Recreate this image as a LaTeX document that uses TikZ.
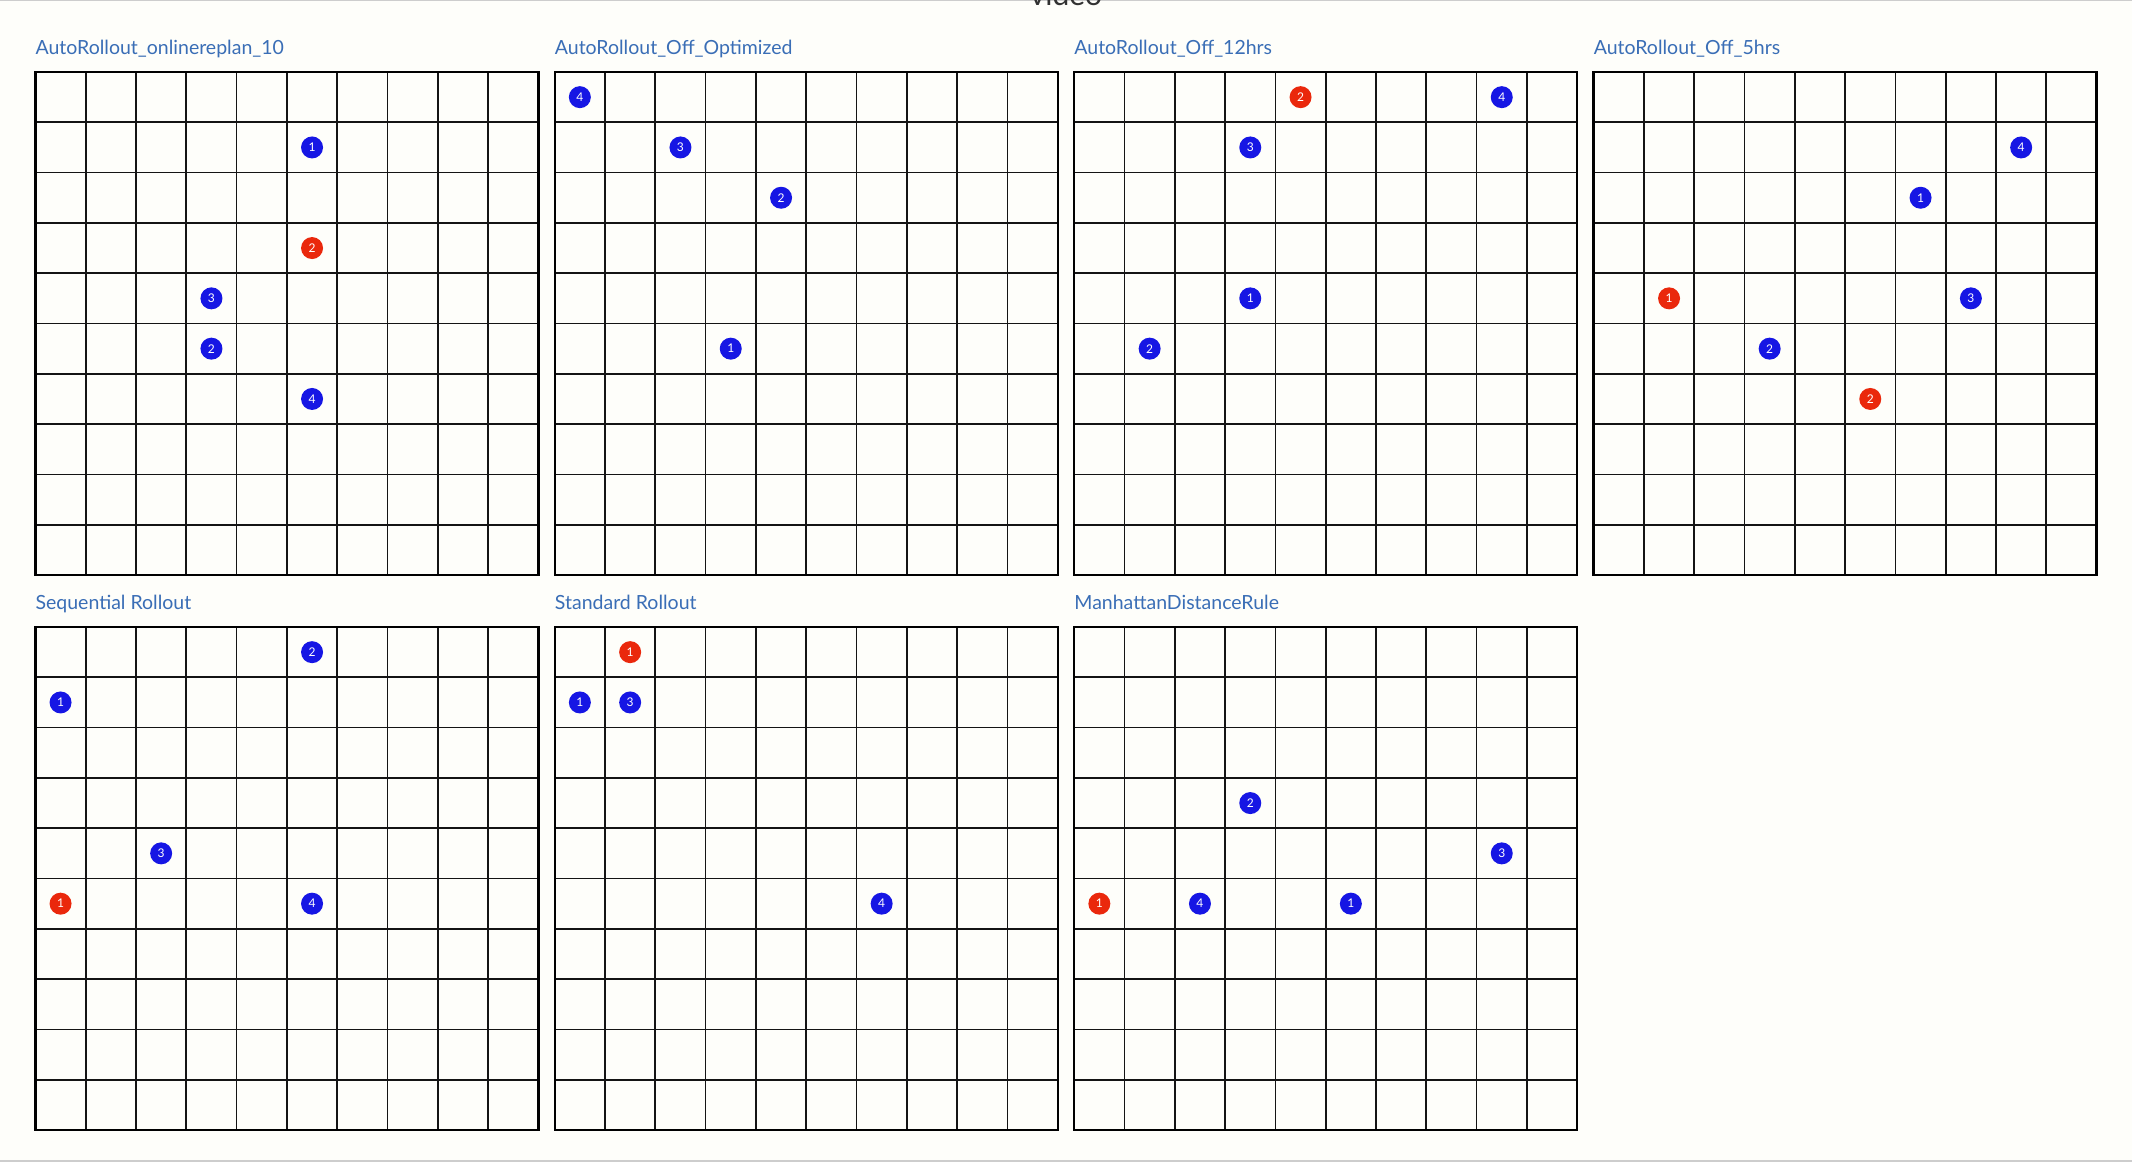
\documentclass[tikz,border=0pt]{standalone}
\usepackage{fontspec}
\setmainfont{Lato}
\definecolor{bgc}{RGB}{254,254,250}
\definecolor{titleblue}{RGB}{58,110,182}
\definecolor{agentblue}{RGB}{22,22,228}
\definecolor{agentred}{RGB}{234,40,12}
\definecolor{videotext}{RGB}{50,50,50}
\definecolor{edgegrey}{RGB}{205,205,205}
\tikzset{
  gridln/.style={line width=1.7pt, draw=black!92},
  frameln/.style={line width=2.3pt, draw=black},
  ttl/.style={font=\fontsize{19.5}{20}\selectfont, text=titleblue, anchor=base west, inner sep=0pt},
  agent/.style={circle, minimum size=22pt, inner sep=0pt, text=white, font=\fontsize{12}{12}\selectfont},
  bluea/.style={agent, fill=agentblue},
  reda/.style={agent, fill=agentred},
}
\newcommand\gridpanel[4]{%
  \node[ttl] (#1-title) at ({#2}, {#3-17.5}) {#4};
  \foreach \i in {1,...,9} {
    \draw[gridln] ({#2+\i*50.3}, {#3}) -- ({#2+\i*50.3}, {#3+503});
    \draw[gridln] ({#2}, {#3+\i*50.3}) -- ({#2+503}, {#3+\i*50.3});
  }
  \draw[frameln] ({#2},{#3}) rectangle ({#2+503},{#3+503});
}
\newcommand\agentdot[7]{%
  \node[#6] (#1) at ({#2+(#4+0.5)*50.3},{#3+(#5+0.5)*50.3}) {#7};
}
\def\pxA{35.4}
\def\pxB{554.7}
\def\pxC{1074.2}
\def\pxD{1593.6}
\def\pyA{72}
\def\pyB{627}
\begin{document}
\begin{tikzpicture}[x=1pt,y=-1pt]
\useasboundingbox (0,0) rectangle (2132,1162);
\fill[bgc] (0,0) rectangle (2132,1162);
\draw[edgegrey, line width=1.2pt] (0,0.6) -- (2132,0.6);
\draw[edgegrey, line width=1.5pt] (0,1161) -- (2132,1161);
\node[font=\fontsize{30}{30}\selectfont, text=videotext, anchor=base, inner sep=0pt] (video) at (1066,5) {video};

\gridpanel{p1}{\pxA}{\pyA}{AutoRollout\_onlinereplan\_10}
\gridpanel{p2}{\pxB}{\pyA}{AutoRollout\_Off\_Optimized}
\gridpanel{p3}{\pxC}{\pyA}{AutoRollout\_Off\_12hrs}
\gridpanel{p4}{\pxD}{\pyA}{AutoRollout\_Off\_5hrs}
\gridpanel{p5}{\pxA}{\pyB}{Sequential Rollout}
\gridpanel{p6}{\pxB}{\pyB}{Standard Rollout}
\gridpanel{p7}{\pxC}{\pyB}{ManhattanDistanceRule}

% panel 1
\agentdot{p1a}{\pxA}{\pyA}{5}{1}{bluea}{1}
\agentdot{p1b}{\pxA}{\pyA}{5}{3}{reda}{2}
\agentdot{p1c}{\pxA}{\pyA}{3}{4}{bluea}{3}
\agentdot{p1d}{\pxA}{\pyA}{3}{5}{bluea}{2}
\agentdot{p1e}{\pxA}{\pyA}{5}{6}{bluea}{4}
% panel 2
\agentdot{p2a}{\pxB}{\pyA}{0}{0}{bluea}{4}
\agentdot{p2b}{\pxB}{\pyA}{2}{1}{bluea}{3}
\agentdot{p2c}{\pxB}{\pyA}{4}{2}{bluea}{2}
\agentdot{p2d}{\pxB}{\pyA}{3}{5}{bluea}{1}
% panel 3
\agentdot{p3a}{\pxC}{\pyA}{4}{0}{reda}{2}
\agentdot{p3b}{\pxC}{\pyA}{8}{0}{bluea}{4}
\agentdot{p3c}{\pxC}{\pyA}{3}{1}{bluea}{3}
\agentdot{p3d}{\pxC}{\pyA}{3}{4}{bluea}{1}
\agentdot{p3e}{\pxC}{\pyA}{1}{5}{bluea}{2}
% panel 4
\agentdot{p4a}{\pxD}{\pyA}{8}{1}{bluea}{4}
\agentdot{p4b}{\pxD}{\pyA}{6}{2}{bluea}{1}
\agentdot{p4c}{\pxD}{\pyA}{1}{4}{reda}{1}
\agentdot{p4d}{\pxD}{\pyA}{7}{4}{bluea}{3}
\agentdot{p4e}{\pxD}{\pyA}{3}{5}{bluea}{2}
\agentdot{p4f}{\pxD}{\pyA}{5}{6}{reda}{2}
% panel 5
\agentdot{p5a}{\pxA}{\pyB}{5}{0}{bluea}{2}
\agentdot{p5b}{\pxA}{\pyB}{0}{1}{bluea}{1}
\agentdot{p5c}{\pxA}{\pyB}{2}{4}{bluea}{3}
\agentdot{p5d}{\pxA}{\pyB}{0}{5}{reda}{1}
\agentdot{p5e}{\pxA}{\pyB}{5}{5}{bluea}{4}
% panel 6
\agentdot{p6a}{\pxB}{\pyB}{1}{0}{reda}{1}
\agentdot{p6b}{\pxB}{\pyB}{0}{1}{bluea}{1}
\agentdot{p6c}{\pxB}{\pyB}{1}{1}{bluea}{3}
\agentdot{p6d}{\pxB}{\pyB}{6}{5}{bluea}{4}
% panel 7
\agentdot{p7a}{\pxC}{\pyB}{3}{3}{bluea}{2}
\agentdot{p7b}{\pxC}{\pyB}{8}{4}{bluea}{3}
\agentdot{p7c}{\pxC}{\pyB}{0}{5}{reda}{1}
\agentdot{p7d}{\pxC}{\pyB}{2}{5}{bluea}{4}
\agentdot{p7e}{\pxC}{\pyB}{5}{5}{bluea}{1}
\end{tikzpicture}
\end{document}
